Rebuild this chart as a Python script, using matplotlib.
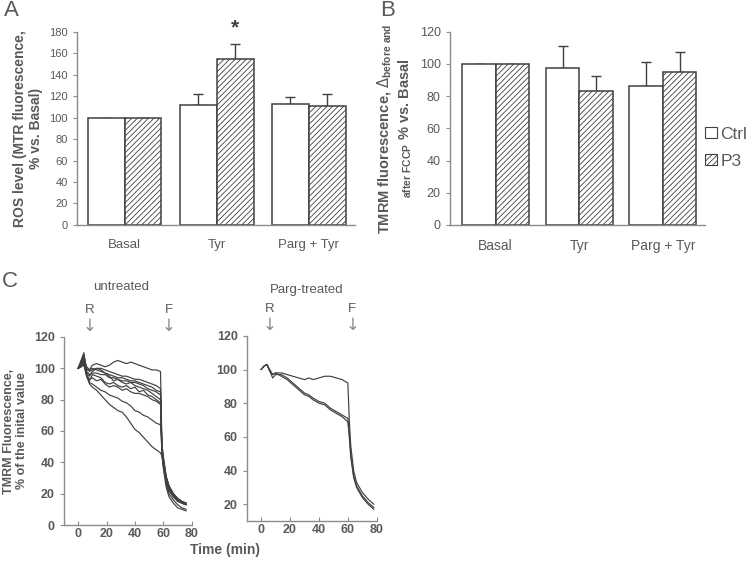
import numpy as np
import matplotlib
matplotlib.use("Agg")
import matplotlib.pyplot as plt
from matplotlib.patches import Patch

plt.rcParams["font.family"] = ["Liberation Sans", "DejaVu Sans"]
plt.rcParams["hatch.linewidth"] = 0.6
plt.rcParams["hatch.color"] = "#7a7a7a"

TXT = "#595959"
LN = "#404040"
AX = "#8c8c8c"

# --- data for panels A and B ---
groups = ["Basal", "Tyr", "Parg + Tyr"]
ros_ctrl = [100, 112, 113]
ros_ctrl_err = [0, 10, 6]
ros_p3 = [100, 155, 111]
ros_p3_err = [0, 14, 11]

tmrm_ctrl = [100, 97.5, 86.5]
tmrm_ctrl_err = [0, 13.5, 15]
tmrm_p3 = [100, 83, 95]
tmrm_p3_err = [0, 9.5, 12.5]

# --- data for panel C (traces) ---
t_left = [0, 2, 4, 6, 8, 10, 13, 16, 19, 22, 25, 28, 31, 34, 37, 40, 43, 46, 49, 52, 55, 58,
          59, 60, 62, 64, 67, 70, 73, 76]
traces_left = [
    [100, 103, 106, 101, 99, 102, 103, 102, 101, 102, 104, 105, 104, 103, 104, 103, 102, 101, 100, 99, 99, 98,
     52, 44, 31, 25, 20, 17, 15, 14],
    [100, 104, 108, 100, 98, 99, 100, 100, 99, 98, 97, 96, 95, 95, 94, 93, 93, 92, 91, 90, 89, 87,
     50, 42, 30, 24, 19, 16, 14, 13],
    [100, 105, 109, 99, 99, 100, 99, 98, 97, 96, 95, 94, 94, 93, 92, 92, 91, 90, 89, 88, 86, 85,
     48, 40, 28, 22, 18, 16, 14, 13],
    [100, 104, 110, 98, 96, 97, 97, 96, 96, 94, 94, 93, 92, 92, 91, 91, 90, 89, 87, 86, 85, 83,
     46, 38, 26, 20, 16, 13, 11, 10],
    [100, 103, 107, 97, 95, 98, 100, 99, 97, 95, 92, 93, 91, 90, 91, 89, 88, 87, 86, 84, 82, 80,
     50, 42, 31, 25, 20, 17, 15, 14],
    [100, 102, 105, 95, 92, 96, 95, 94, 91, 90, 91, 89, 88, 89, 87, 88, 85, 86, 83, 82, 80, 78,
     49, 40, 29, 23, 19, 16, 14, 13],
    [100, 101, 104, 96, 93, 94, 92, 93, 90, 88, 89, 88, 86, 87, 85, 84, 84, 83, 82, 80, 79, 77,
     45, 36, 24, 18, 14, 11, 10, 9],
    [100, 101, 103, 95, 91, 90, 88, 86, 85, 83, 82, 81, 79, 78, 76, 73, 72, 70, 69, 67, 65, 64,
     47, 40, 30, 24, 20, 17, 15, 14],
    [100, 101, 102, 95, 90, 88, 86, 83, 80, 77, 75, 73, 72, 69, 65, 61, 59, 56, 53, 50, 48, 46,
     44, 38, 28, 22, 18, 15, 14, 13],
]

t_right = [0, 2, 4, 6, 8, 10, 14, 18, 22, 26, 30, 33, 36, 40, 44, 48, 52, 56, 60,
           61, 62, 64, 66, 70, 74, 78]
traces_right = [
    [100, 102, 103, 100, 97, 98, 98, 97, 96, 95, 94, 95, 94, 95, 96, 96, 95, 94, 92,
     70, 55, 40, 33, 27, 23, 20],
    [100, 102, 103, 99, 95, 97, 97, 95, 92, 89, 86, 85, 83, 81, 80, 77, 75, 73, 71,
     62, 50, 37, 31, 25, 21, 18],
    [100, 102, 103, 99, 97, 98, 96, 94, 91, 88, 85, 84, 82, 80, 79, 76, 74, 72, 69,
     60, 48, 36, 30, 24, 20, 17],
]
marks_left = {"R": 8, "F": 64}
marks_right = {"R": 6, "F": 63}

fig = plt.figure(figsize=(7.52, 5.68), dpi=100)


def style_axes(ax):
    for s in ["top", "right"]:
        ax.spines[s].set_visible(False)
    for s in ["left", "bottom"]:
        ax.spines[s].set_color(AX)
        ax.spines[s].set_linewidth(1.0)
    ax.tick_params(colors=AX, labelcolor=TXT)


def bar_panel(ax, ctrl, ctrl_err, p3, p3_err, ytop, ystep, ytick_size, xtick_size):
    x = np.arange(len(groups))
    w = 0.4
    ax.bar(x - w / 2, ctrl, w, color="white", edgecolor=LN, linewidth=1.1, zorder=2)
    ax.bar(x + w / 2, p3, w, color="white", edgecolor=LN, linewidth=1.1, hatch="//////", zorder=2)
    ax.errorbar(x - w / 2, ctrl, yerr=[np.zeros(len(x)), ctrl_err], fmt="none", ecolor=LN,
                elinewidth=1.0, capsize=3.5, capthick=1.0, zorder=1)
    ax.errorbar(x + w / 2, p3, yerr=[np.zeros(len(x)), p3_err], fmt="none", ecolor=LN,
                elinewidth=1.0, capsize=3.5, capthick=1.0, zorder=1)
    ax.set_xlim(-0.52, 2.5)
    ax.set_ylim(0, ytop)
    ax.set_yticks(np.arange(0, ytop + 1, ystep))
    ax.set_xticks(x)
    ax.set_xticklabels(groups, fontsize=xtick_size)
    ax.tick_params(axis="x", length=0, pad=10)
    ax.tick_params(axis="y", labelsize=ytick_size, length=3, direction="out")
    style_axes(ax)


# Panel A
axA = fig.add_axes([0.102, 0.604, 0.370, 0.340])
bar_panel(axA, ros_ctrl, ros_ctrl_err, ros_p3, ros_p3_err, 180, 20, 8, 9.5)
axA.set_ylabel("ROS level (MTR fluorescence,\n% vs. Basal)", fontsize=10, fontweight="bold", color=TXT)
axA.text(1 + 0.2, ros_p3[1] + ros_p3_err[1] + 6, "*", ha="center", va="bottom",
         fontsize=15, fontweight="bold", color=LN, clip_on=False)

# Panel B
axB = fig.add_axes([0.598, 0.604, 0.339, 0.340])
bar_panel(axB, tmrm_ctrl, tmrm_ctrl_err, tmrm_p3, tmrm_p3_err, 120, 20, 9, 10)
axB.set_xlim(-0.55, 2.5)
axB.set_ylabel("TMRM fluorescence, $\\Delta_{\\mathregular{before\\ and}}$\n"
               "$_{\\mathregular{after\\ FCCP}}$ % vs. Basal",
               fontsize=10.5, fontweight="bold", color=TXT, labelpad=4)
handles = [Patch(facecolor="white", edgecolor=LN, linewidth=0.8, label="Ctrl"),
           Patch(facecolor="white", edgecolor=LN, linewidth=0.8, hatch="//////", label="P3")]
leg = axB.legend(handles=handles, loc="center left", bbox_to_anchor=(1.0, 0.40), frameon=False,
                 fontsize=12.5, handlelength=0.65, handleheight=0.65, handletextpad=0.2,
                 labelspacing=0.7, borderaxespad=0.05, borderpad=0)
for t in leg.get_texts():
    t.set_color(TXT)


def trace_panel(ax, t, traces, marks, ylim, yticks):
    for tr in traces:
        ax.plot(t, tr, color=LN, linewidth=0.85)
    ax.set_xlim(-10, 80)
    ax.set_ylim(*ylim)
    ax.set_xticks([0, 20, 40, 60, 80])
    ax.set_yticks(yticks)
    style_axes(ax)
    ax.tick_params(axis="x", direction="in", length=3, labelsize=9, pad=2)
    ax.tick_params(axis="y", direction="out", length=3, labelsize=9)
    for lab in ax.get_xticklabels() + ax.get_yticklabels():
        lab.set_fontweight("bold")
    for name, xm in marks.items():
        ax.annotate(name, xy=(xm, 1.145), xycoords=("data", "axes fraction"), ha="center",
                    va="center", fontsize=9.5, color=TXT, annotation_clip=False)
        ax.annotate("↓", xy=(xm, 1.06), xycoords=("data", "axes fraction"), ha="center",
                    va="center", fontsize=12, color="#8c8c8c", annotation_clip=False,
                    family="DejaVu Sans")


# Panel C
axC1 = fig.add_axes([0.085, 0.0757, 0.170, 0.331])
trace_panel(axC1, t_left, traces_left, marks_left, (0, 120), np.arange(0, 121, 20))
axC1.set_title("untreated", fontsize=9.5, color=TXT, pad=34, x=0.45)
axC1.set_ylabel("TMRM Fluorescence,\n% of the inital value", fontsize=9, fontweight="bold",
                color=TXT, labelpad=4)

axC2 = fig.add_axes([0.328, 0.0827, 0.173, 0.326])
trace_panel(axC2, t_right, traces_right, marks_right, (10, 120), np.arange(20, 121, 20))
axC2.set_title("Parg-treated", fontsize=9.5, color=TXT, pad=31, x=0.46)

fig.text(225 / 752, 1 - 550 / 568, "Time (min)", ha="center", va="center",
         fontsize=10, fontweight="bold", color=TXT)

fig.text(4 / 752, 1 - 11 / 568, "A", fontsize=16, color=TXT, va="center")
fig.text(380 / 752, 1 - 11 / 568, "B", fontsize=16, color=TXT, va="center")
fig.text(2 / 752, 1 - 281 / 568, "C", fontsize=16, color=TXT, va="center")

fig.savefig("out.png", dpi=100)
